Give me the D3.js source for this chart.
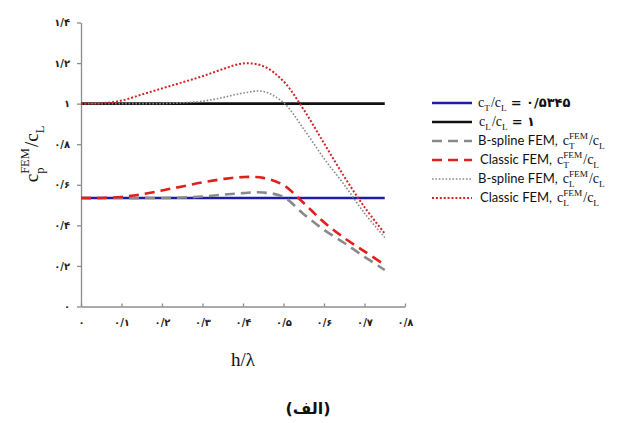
<!DOCTYPE html>
<html>
<head>
<meta charset="utf-8">
<script src="https://cdn.jsdelivr.net/npm/d3@7"></script>
<style>
body { margin: 0; background: #fff; }
</style>
</head>
<body>
<div id="chart"></div>
<script>
// h/lambda sample points
const hRatio    = [0, 0.05, 0.1, 0.15, 0.2, 0.25, 0.3, 0.35, 0.4, 0.45, 0.5, 0.55, 0.6, 0.65, 0.7, 0.75];
// analytical ratios
const ctRatio = 0.5345;
const clRatio = 1;
// FEM curves
const bsplineT  = [0.5345, 0.5345, 0.5345, 0.5345, 0.535, 0.537, 0.542, 0.551, 0.559, 0.562, 0.54, 0.455, 0.378, 0.313, 0.245, 0.18];
const classicT  = [0.5345, 0.535, 0.54, 0.553, 0.572, 0.592, 0.612, 0.628, 0.638, 0.634, 0.598, 0.51, 0.415, 0.338, 0.272, 0.205];
const bsplineL  = [1, 1, 1, 1, 1, 1.004, 1.012, 1.03, 1.052, 1.06, 1.005, 0.875, 0.73, 0.6, 0.46, 0.34];
const classicL  = [1, 1.002, 1.015, 1.045, 1.075, 1.105, 1.135, 1.17, 1.198, 1.185, 1.11, 0.97, 0.805, 0.64, 0.49, 0.36];
const xTicks = [0, 0.1, 0.2, 0.3, 0.4, 0.5, 0.6, 0.7, 0.8];
const yTicks = [0, 0.2, 0.4, 0.6, 0.8, 1, 1.2, 1.4];

const width = 617, height = 423;
const serif = "'Liberation Serif', 'DejaVu Serif', serif";
const sans = "Lato, 'Open Sans', sans-serif";
function persian(v) {
	const digits = "۰۱۲۳۴۵۶۷۸۹";
	return String(+v.toFixed(4)).replace(/\./g, "/").replace(/[0-9]/g, d => digits[+d]);
}

const svg = d3.select("#chart")
	.append("svg")
	.attr("width", width)
	.attr("height", height);

const x = d3.scaleLinear().domain([0, 0.8]).range([81, 405]);
const y = d3.scaleLinear().domain([0, 1.4]).range([306.5, 22.5]);

const xAxis = d3.axisBottom(x)
	.tickValues(xTicks)
	.tickSizeInner(-3)
	.tickSizeOuter(0)
	.tickPadding(12)
	.tickFormat(persian);
const yAxis = d3.axisLeft(y)
	.tickValues(yTicks)
	.tickSizeInner(4)
	.tickSizeOuter(0)
	.tickPadding(7)
	.tickFormat(persian);

const gx = svg.append("g")
	.attr("transform", "translate(0," + y(0) + ")")
	.call(xAxis);
const gy = svg.append("g")
	.attr("transform", "translate(" + x(0) + ",0)")
	.call(yAxis);
[gx, gy].forEach(g => {
	g.selectAll("path, line").attr("stroke", "#8c8c8c").attr("stroke-width", 1.3);
	g.selectAll("text")
		.attr("fill", "#222")
		.style("font-family", "'DejaVu Sans', sans-serif")
		.style("font-size", "10px")
		.style("font-weight", "bold");
});

// series
const series = [
	{ vals: hRatio.map(() => ctRatio), color: "#1c1ca6", w: 2.4, dash: null },
	{ vals: hRatio.map(() => clRatio), color: "#111", w: 2.6, dash: null },
	{ vals: bsplineT, color: "#8a8a8a", w: 2.6, dash: "10,6" },
	{ vals: classicT, color: "#e0201c", w: 2.6, dash: "10,6" },
	{ vals: bsplineL, color: "#8a8a8a", w: 1.6, dash: "1.6,1.8" },
	{ vals: classicL, color: "#d42424", w: 2, dash: "2,1.9" }
];
const line = d3.line()
	.x((d, i) => x(hRatio[i]))
	.y(d => y(d))
	.curve(d3.curveCatmullRom.alpha(0.5));

series.forEach(s => {
	svg.append("path")
		.attr("d", line(s.vals))
		.attr("fill", "none")
		.attr("stroke", s.color)
		.attr("stroke-width", s.w)
		.attr("stroke-dasharray", s.dash);
});

// rich text with sub/superscripts
function mathText(g, x0, y0, parts) {
	let cx = x0;
	parts.forEach(p => {
		if (p.stack) {
			const a = g.append("text").attr("x", cx).attr("y", y0 - p.size * 0.45)
				.style("font-family", serif).style("font-size", p.size * 0.66 + "px")
				.attr("fill", "#111").text(p.sup);
			const b = g.append("text").attr("x", cx).attr("y", y0 + p.size * 0.3)
				.style("font-family", serif).style("font-size", p.size * 0.66 + "px")
				.attr("fill", "#111").text(p.sub);
			cx += Math.max(a.node().getComputedTextLength(), b.node().getComputedTextLength()) + 1;
		} else {
			const small = p.sub ? 0.66 : 1;
			const t = g.append("text").attr("x", cx).attr("y", y0 + (p.sub ? p.size * 0.3 : 0))
				.style("font-family", p.font || serif).style("font-size", p.size * small + "px")
				.style("font-weight", p.bold ? "bold" : null)
				.attr("fill", "#111").text(p.t);
			cx += t.node().getComputedTextLength() + (p.gap || 0);
		}
	});
	return cx - x0;
}

// legend
const legend = [
	{ color: "#1c1ca6", w: 2.4, dash: null, kind: "ct" },
	{ color: "#111", w: 2.6, dash: null, kind: "cl" },
	{ color: "#8a8a8a", w: 2.6, dash: "10,6", prefix: "B-spline FEM,", sub: "T" },
	{ color: "#e0201c", w: 2.6, dash: "10,6", prefix: "Classic FEM,", sub: "T" },
	{ color: "#8a8a8a", w: 1.6, dash: "1.6,1.8", prefix: "B-spline FEM,", sub: "L" },
	{ color: "#d42424", w: 2, dash: "2,1.9", prefix: "Classic FEM,", sub: "L" }
];
const legendY = d3.scalePoint().domain(d3.range(legend.length)).range([103, 198]);
legend.forEach((d, i) => {
	const ly = legendY(i);
	svg.append("line")
		.attr("x1", 432).attr("x2", 472).attr("y1", ly).attr("y2", ly)
		.attr("stroke", d.color).attr("stroke-width", d.w).attr("stroke-dasharray", d.dash);
	const g = svg.append("g");
	const fs = 14;
	if (d.kind === "ct") {
		mathText(g, 478, ly + 4, [
			{ t: "c", size: fs }, { t: "T", sub: true, size: fs, gap: 1 }, { t: "/", size: fs },
			{ t: "c", size: fs }, { t: "L", sub: true, size: fs, gap: 4 },
			{ t: "= " + persian(ctRatio), size: 13, font: "'DejaVu Sans', sans-serif", bold: true }
		]);
	} else if (d.kind === "cl") {
		mathText(g, 479, ly + 4, [
			{ t: "c", size: fs }, { t: "L", sub: true, size: fs, gap: 1 }, { t: "/", size: fs },
			{ t: "c", size: fs }, { t: "L", sub: true, size: fs, gap: 4 },
			{ t: "= " + persian(clRatio), size: 13, font: "'DejaVu Sans', sans-serif", bold: true }
		]);
	} else {
		mathText(g, d.prefix[0] === "B" ? 478 : 480, ly + 4, [
			{ t: d.prefix, size: 13, font: sans, gap: 5 },
			{ t: "c", size: fs }, { stack: true, sup: "FEM", sub: d.sub, size: fs },
			{ t: "/", size: fs }, { t: "c", size: fs }, { t: "L", sub: true, size: fs }
		]);
	}
});

// axis titles
const yl = svg.append("g");
const ylw = mathText(yl, 0, 0, [
	{ t: "c", size: 19 }, { stack: true, sup: "FEM", sub: "p", size: 19 },
	{ t: "/", size: 19 }, { t: "c", size: 19 }, { t: "L", sub: true, size: 19 }
]);
yl.attr("transform", "translate(38," + (154 + ylw / 2) + ") rotate(-90)");

svg.append("text")
	.attr("x", 243).attr("y", 366)
	.attr("text-anchor", "middle")
	.style("font-family", serif).style("font-size", "19px")
	.attr("fill", "#111")
	.text("h/λ");

svg.append("text")
	.attr("x", 308).attr("y", 414)
	.attr("text-anchor", "middle")
	.style("font-family", "'DejaVu Sans', sans-serif").style("font-size", "16px")
	.style("font-weight", "bold")
	.attr("fill", "#111")
	.text("(الف)");
</script>
</body>
</html>
